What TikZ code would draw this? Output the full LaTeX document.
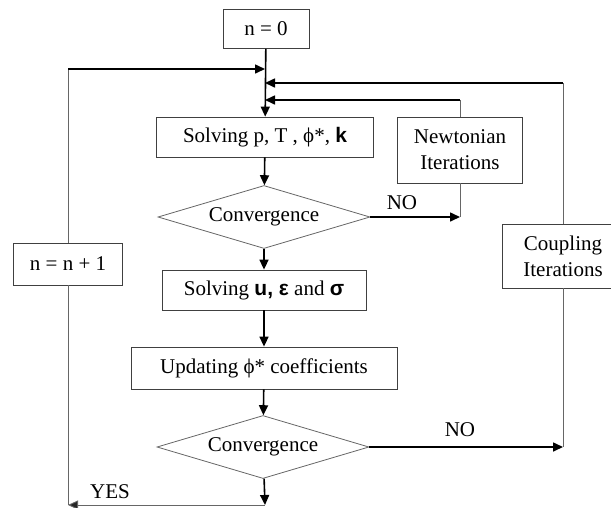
\documentclass[tikz,border=0pt]{standalone}
\usepackage{fontspec}
\setmainfont{Liberation Serif}
\newfontfamily\vecfont{Liberation Sans}
\usetikzlibrary{shapes,arrows.meta}
\newcommand{\vb}[1]{{\vecfont\bfseries #1}}
\tikzset{
  block/.style   = {draw=black!75, line width=0.8pt, inner sep=2pt, align=center},
  decision/.style= {diamond, draw=black!60, line width=0.8pt, inner sep=0pt,
                    aspect=3.36, minimum width=212pt, minimum height=63pt},
  lbl/.style     = {inner sep=0pt}
}

\begin{document}
\begin{tikzpicture}[x=1pt,y=-1pt,font=\fontsize{21}{26}\selectfont]
	\useasboundingbox (0,0) rectangle (611,507);
	\tikzstyle{flow}=[line width=1.6pt,-{Triangle[length=10pt,width=9pt]}]
	\tikzstyle{loop}=[line width=0.9pt,draw=black!60]
	% main column
	\node[block,minimum width=86pt,minimum height=39pt] (start) at (266,29) {n = 0};
	\node[block,minimum width=217pt,minimum height=40pt] (solveA) at (265,137) {Solving p, T , ϕ*, \vb{k}};
	\node[decision] (convA) at (264,217) {Convergence};
	\node[block,minimum width=204pt,minimum height=40pt] (solveB) at (264,290) {Solving \vb{u, ε} and \vb{σ}};
	\node[block,minimum width=266pt,minimum height=42pt] (update) at (264,368) {Updating ϕ* coefficients};
	\node[decision] (convB) at (263,447) {Convergence};
	% side boxes
	\node[block,minimum width=125pt,minimum height=66pt] (newton) at (460,150) {Newtonian\\Iterations};
	\node[block,minimum width=122pt,minimum height=64pt] (couple) at (563,256) {Coupling\\Iterations};
	\node[block,minimum width=109pt,minimum height=42pt] (incr) at (68,264) {n = n + 1};
	% labels
	\node[lbl] (noA) at (402,203) {NO};
	\node[lbl] (noB) at (460,430) {NO};
	\node[lbl] (yes) at (110,492) {YES};
	% junctions
	\coordinate (jA) at (265,69);
	\coordinate (jB) at (265,83);
	\coordinate (jC) at (265,100);
	\coordinate (lt) at (incr.north |- jA);
	\coordinate (rt) at (couple.north |- jB);
	\coordinate (nt) at (newton.north |- jC);
	\coordinate (nb) at (newton.south |- convA.east);
	\coordinate (rb) at (couple.south |- convB.east);
	\coordinate (bot) at (265,505);
	\coordinate (lb) at (incr.south |- bot);
	% flow
	\draw[flow] (start) -- (solveA);
	\draw[flow] (solveA) -- (convA);
	\draw[flow] (convA) -- (solveB);
	\draw[flow] (solveB) -- (update);
	\draw[flow] (update) -- (convB);
	\draw[flow] (convB) -- (bot);
	% newtonian loop
	\draw[flow] (convA.east) -- (nb);
	\draw[loop] (nb) -- (newton.south);
	\draw[loop] (newton.north) -- (nt);
	\draw[flow] (nt) -- (jC);
	% coupling loop
	\draw[flow] (convB.east) -- (rb);
	\draw[loop] (rb) -- (couple.south);
	\draw[loop] (couple.north) -- (rt);
	\draw[flow] (rt) -- (jB);
	% time loop
	\draw[loop,-{Triangle[length=10pt,width=9pt,fill=black!85]}] (bot) -- (lb);
	\draw[loop] (lb) -- (incr.south);
	\draw[loop] (incr.north) -- (lt);
	\draw[flow] (lt) -- (jA);
\end{tikzpicture}
\end{document}
